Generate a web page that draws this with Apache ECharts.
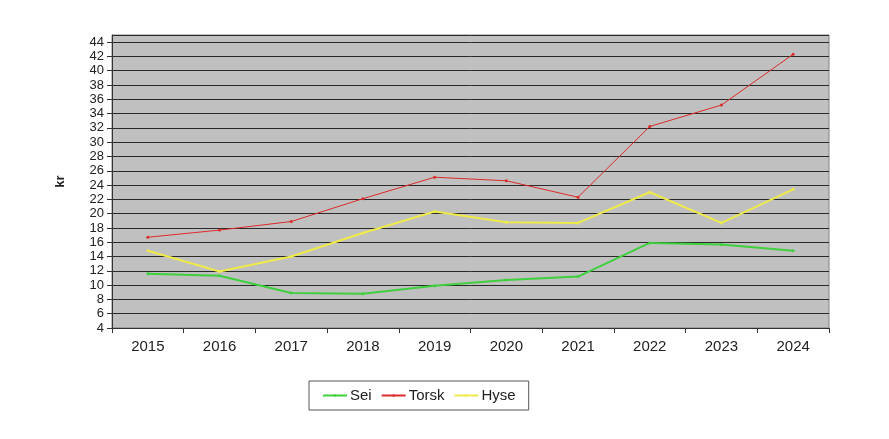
<!DOCTYPE html>
<html lang="no">
<head>
    <meta charset="UTF-8">
    <title>kr</title>
    <script type="text/javascript" src="https://cdn.jsdelivr.net/npm/echarts@6/dist/echarts.min.js"></script>
    <style>
        html, body { margin: 0; padding: 0; background: #ffffff; }
    </style>
</head>
<body>
<div id="main" style="width: 889px;height:439px;"></div>
<script type="text/javascript">
    // år på x-aksen
    var years = ['2015', '2016', '2017', '2018', '2019', '2020', '2021', '2022', '2023', '2024'];
    // pris i kr, lest av bildet
    var sei = [11.6, 11.3, 8.9, 8.8, 9.9, 10.7, 11.2, 15.9, 15.7, 14.8];
    var torsk = [16.7, 17.7, 18.9, 22.1, 25.1, 24.6, 22.3, 32.2, 35.2, 42.3];
    var hyse = [14.8, 11.9, 14.0, 17.3, 20.3, 18.8, 18.7, 23.0, 18.7, 23.4];

    var myChart = echarts.init(document.getElementById('main'));

    function serie(name, data, color, width) {
        return {
            name: name,
            type: 'line',
            data: data,
            symbol: 'circle',
            symbolSize: 3,
            showSymbol: true,
            lineStyle: { color: color, width: width },
            itemStyle: { color: color },
            emphasis: { disabled: true }
        };
    }

    myChart.setOption({
        animation: false,
        textStyle: { fontFamily: 'Liberation Sans, Arial, sans-serif' },
        grid: { left: 112, right: 60, top: 35, bottom: 111, show: true,
            backgroundColor: '#c0c0c0', borderColor: '#808080', borderWidth: 1 },
        legend: {
            data: ['Sei', 'Torsk', 'Hyse'],
            orient: 'horizontal',
            left: 309, top: 381,
            padding: [7, 13, 7, 13],
            itemGap: 9,
            itemWidth: 24, itemHeight: 3,
            borderColor: '#555555', borderWidth: 1,
            textStyle: { fontSize: 15, color: '#222222', padding: [0, 0, 0, -2] }
        },
        xAxis: {
            type: 'category',
            data: years,
            boundaryGap: true,
            axisLine: { lineStyle: { color: '#333333' } },
            axisTick: { show: true, length: 5, lineStyle: { color: '#333333' } },
            axisLabel: { fontSize: 15, color: '#222222', margin: 11 }
        },
        yAxis: {
            type: 'value',
            name: 'kr',
            nameLocation: 'middle',
            nameGap: 45,
            nameTextStyle: { fontSize: 13, fontWeight: 'bold', color: '#222222' },
            min: 4, max: 45, interval: 2,
            axisLine: { show: true, lineStyle: { color: '#333333' } },
            axisTick: { show: true, length: 5, lineStyle: { color: '#333333' } },
            axisLabel: { fontSize: 13, color: '#222222', margin: 8, showMaxLabel: false },
            splitLine: { lineStyle: { color: '#2a2a2a', width: 1 } }
        },
        series: [
            serie('Sei', sei, '#3fcf3f', 2),
            serie('Torsk', torsk, '#dd2b2b', 1),
            serie('Hyse', hyse, '#eeea4a', 2)
        ]
    });
</script>
</body>
</html>
